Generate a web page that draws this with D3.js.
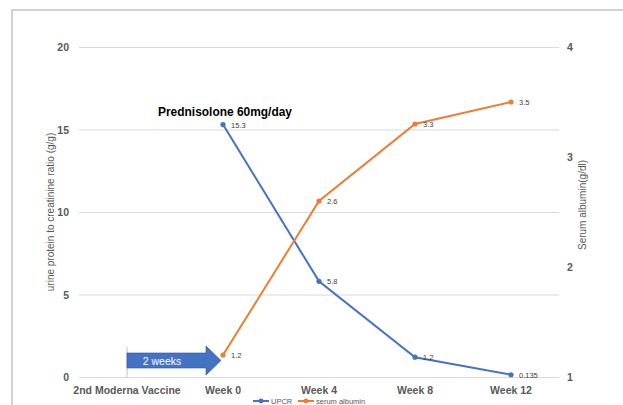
<!DOCTYPE html>
<html>
<head>
<meta charset="utf-8">
<script src="https://cdn.jsdelivr.net/npm/d3@7"></script>
<style>
  body { margin: 0; background: #fff; }
  svg { font-family: "Liberation Sans", Arial, sans-serif; }
</style>
</head>
<body>
<svg id="chart" width="623" height="405"></svg>
<script>
// data
const categories = ["2nd Moderna Vaccine", "Week 0", "Week 4", "Week 8", "Week 12"];
const upcr = [null, 15.3, 5.8, 1.2, 0.135];
const albumin = [null, 1.2, 2.6, 3.3, 3.5];
const leftTicks = [0, 5, 10, 15, 20];
const rightTicks = [1, 2, 3, 4];

const blue = "#4472C4";
const orange = "#ED7D31";
const grid = "#D9D9D9";
const tickColor = "#595959";

const svg = d3.select("#chart");

// outer frame (right / bottom edges fall outside the picture)
svg.append("rect")
  .attr("x", 12).attr("y", 10)
  .attr("width", 700).attr("height", 500)
  .attr("fill", "none").attr("stroke", "#A6A6A6").attr("stroke-width", 1);

const x = d3.scaleBand().domain(categories).range([79, 559]);
const yL = d3.scaleLinear().domain([0, 20]).range([377, 47]);
const yR = d3.scaleLinear().domain([1, 4]).range([377, 47]);
const cx = (c) => x(c) + x.bandwidth() / 2;

// gridlines
svg.append("g").selectAll("line")
  .data(leftTicks)
  .enter()
  .append("line")
  .attr("x1", 79).attr("x2", 559)
  .attr("y1", (d) => yL(d) + 0.5).attr("y2", (d) => yL(d) + 0.5)
  .attr("stroke", grid).attr("stroke-width", 1);

// left tick labels
svg.append("g").selectAll("text")
  .data(leftTicks)
  .enter()
  .append("text")
  .attr("x", 69).attr("y", (d) => yL(d) + 4)
  .attr("text-anchor", "end")
  .attr("font-size", 10.5).attr("font-weight", "bold")
  .attr("fill", tickColor)
  .text((d) => d);

// right tick labels
svg.append("g").selectAll("text")
  .data(rightTicks)
  .enter()
  .append("text")
  .attr("x", 567).attr("y", (d) => yR(d) + 4)
  .attr("font-size", 10.5).attr("font-weight", "bold")
  .attr("fill", tickColor)
  .text((d) => d);

// category labels
svg.append("g").selectAll("text")
  .data(categories)
  .enter()
  .append("text")
  .attr("x", (d) => cx(d)).attr("y", 394)
  .attr("text-anchor", "middle")
  .attr("font-size", 10.5).attr("font-weight", "bold")
  .attr("fill", tickColor)
  .text((d) => d);

// axis titles
svg.append("text")
  .attr("transform", "translate(54,212) rotate(-90)")
  .attr("text-anchor", "middle")
  .attr("font-size", 10).attr("fill", tickColor)
  .text("urine protein to creatinine ratio (g/g)");

svg.append("text")
  .attr("transform", "translate(586,205) rotate(-90)")
  .attr("text-anchor", "middle")
  .attr("font-size", 10).attr("fill", tickColor)
  .text("Serum albumin(g/dl)");

// vaccine marker line and arrow
svg.append("line")
  .attr("x1", 127).attr("x2", 127)
  .attr("y1", 347).attr("y2", 377)
  .attr("stroke", "#BFBFBF").attr("stroke-width", 1);

const ax0 = 127, ax1 = 206, tip = 221, by0 = 353, by1 = 368, hy0 = 346, hy1 = 375;
svg.append("path")
  .attr("d", `M${ax0},${by0}L${ax1},${by0}L${ax1},${hy0}L${tip},${(by0 + by1) / 2}L${ax1},${hy1}L${ax1},${by1}L${ax0},${by1}Z`)
  .attr("fill", blue).attr("stroke", "#2F528F").attr("stroke-width", 0.6);
svg.append("text")
  .attr("x", 162).attr("y", 365)
  .attr("text-anchor", "middle")
  .attr("font-size", 10.5).attr("fill", "#fff")
  .text("2 weeks");

// annotation
svg.append("text")
  .attr("x", 158).attr("y", 116)
  .attr("font-size", 13).attr("font-weight", "bold")
  .attr("textLength", 134).attr("lengthAdjust", "spacingAndGlyphs")
  .attr("fill", "#000")
  .text("Prednisolone 60mg/day");

// series
function drawSeries(values, y, color) {
  const pts = categories
    .map((c, i) => ({ c: c, v: values[i] }))
    .filter((d) => d.v !== null);
  const line = d3.line().x((d) => cx(d.c)).y((d) => y(d.v));
  svg.append("path")
    .datum(pts)
    .attr("d", line)
    .attr("fill", "none").attr("stroke", color).attr("stroke-width", 2);
  svg.append("g").selectAll("circle")
    .data(pts)
    .enter()
    .append("circle")
    .attr("cx", (d) => cx(d.c)).attr("cy", (d) => y(d.v))
    .attr("r", 2.6).attr("fill", color);
  svg.append("g").selectAll("text")
    .data(pts)
    .enter()
    .append("text")
    .attr("x", (d) => cx(d.c) + 8).attr("y", (d) => y(d.v) + 3)
    .attr("font-size", 7.5).attr("fill", "#404040")
    .text((d) => d.v);
}
drawSeries(upcr, yL, blue);
drawSeries(albumin, yR, orange);

// legend
const legend = [
  { name: "UPCR", color: blue, x: 253 },
  { name: "serum albumin", color: orange, x: 298 },
];
const lg = svg.append("g").selectAll("g")
  .data(legend)
  .enter()
  .append("g");
lg.append("line")
  .attr("x1", (d) => d.x).attr("x2", (d) => d.x + 16)
  .attr("y1", 401).attr("y2", 401)
  .attr("stroke", (d) => d.color).attr("stroke-width", 2);
lg.append("circle")
  .attr("cx", (d) => d.x + 8).attr("cy", 401)
  .attr("r", 2.4).attr("fill", (d) => d.color);
lg.append("text")
  .attr("x", (d) => d.x + 18).attr("y", 404)
  .attr("font-size", 7.5).attr("fill", tickColor)
  .text((d) => d.name);
</script>
</body>
</html>
